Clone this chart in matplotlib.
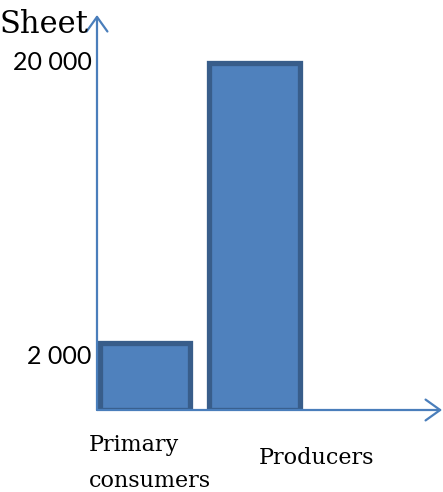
import matplotlib
matplotlib.use("Agg")
import matplotlib.pyplot as plt

categories = ["Primary\nconsumers", "Producers"]
values = [2000, 20000]
tick_values = [2000, 20000]
tick_labels = ["2 000", "20 000"]
y_title = "Sheet"

fill = "#4F81BD"
edge = "#385D8A"
axis_col = "#4A7EBB"

fig = plt.figure(figsize=(4.43, 4.92), dpi=100)
ax = fig.add_axes([97 / 443, 82 / 492, 343 / 443, 395 / 492])

# pictorial, non-linear value axis
ax.set_yscale("log")
ybot, ytop = 1153, 29640
ax.set_ylim(ybot, ytop)
ax.set_xlim(-0.438, 2.694)

xs = list(range(len(categories)))
ax.bar(xs, [v - ybot for v in values], bottom=ybot, width=0.83,
       color=fill, edgecolor=edge, linewidth=3.8, zorder=3)

for s in ax.spines.values():
    s.set_visible(False)
ax.set_xticks([])
ax.set_yticks([])
ax.minorticks_off()

# axes drawn as arrows
arrow = dict(arrowstyle="->,head_length=1.05,head_width=0.75", color=axis_col, lw=1.6,
             shrinkA=0, shrinkB=0)
ax.annotate("", xy=(0, 1), xytext=(0, 0), xycoords="axes fraction", arrowprops=arrow)
ax.annotate("", xy=(1.006, 0), xytext=(0, 0), xycoords="axes fraction", arrowprops=arrow)

# value labels
label_dy = [-10, 0]
for v, lab, dy in zip(tick_values, tick_labels, label_dy):
    ax.annotate(lab, xy=(0, v), xycoords=("axes fraction", "data"),
                xytext=(-4, dy), textcoords="offset points",
                ha="right", va="center", fontsize=18, family="Lato")

ax.annotate(y_title, xy=(0, 1), xycoords="axes fraction", xytext=(-70, -13),
            textcoords="offset points", ha="left", va="baseline",
            fontsize=22, family="DejaVu Serif")

# category labels
ax.annotate(categories[0], xy=(-0.438, 0), xycoords=("data", "axes fraction"),
            xytext=(-6, -17), textcoords="offset points", ha="left", va="top",
            fontsize=16, family="DejaVu Serif", linespacing=1.85)
ax.annotate(categories[1], xy=(xs[1], 0), xycoords=("data", "axes fraction"),
            xytext=(45, -27), textcoords="offset points", ha="center", va="top",
            fontsize=16, family="DejaVu Serif")

fig.savefig("out.png", dpi=100)
